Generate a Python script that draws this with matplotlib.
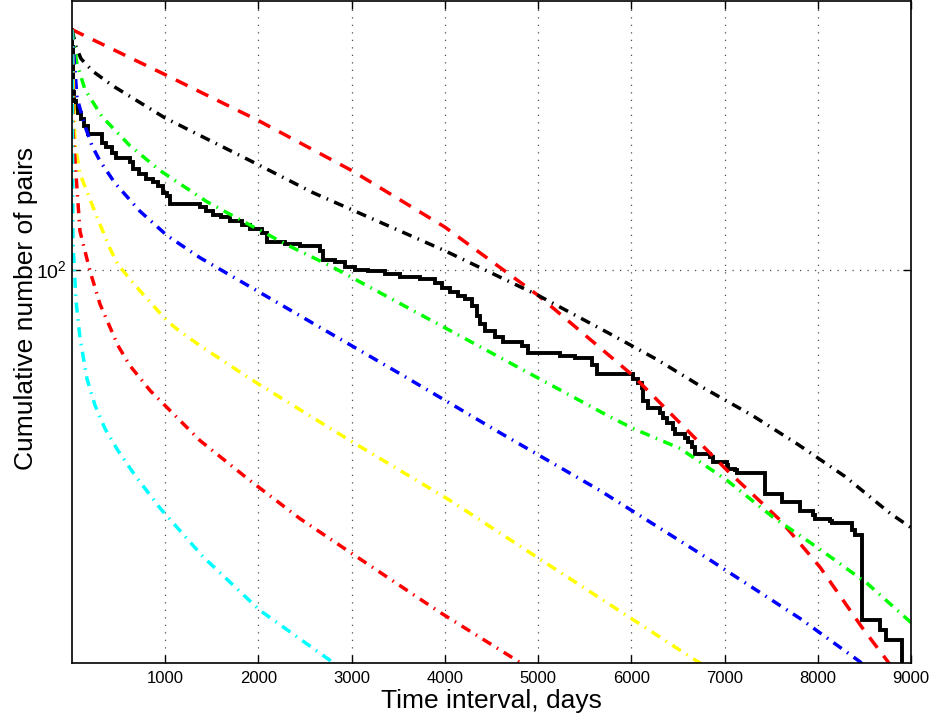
import numpy as np
import matplotlib
matplotlib.use("Agg")
import matplotlib.pyplot as plt

plt.rcParams['font.family'] = ['Liberation Sans', 'DejaVu Sans']

# observed cumulative number of pairs (step function)
obs_days = [0, 3, 6, 11, 21, 43, 64, 97, 129, 172, 322, 365, 429, 472, 622, 654,
            719, 794, 869, 923, 976, 1019, 1051, 1373, 1437, 1513, 1598, 1695,
            1824, 1909, 2038, 2092, 2285, 2446, 2660, 2693, 2821, 2928, 3036,
            3175, 3358, 3518, 3733, 3894, 3969, 4055, 4141, 4216, 4291, 4344,
            4377, 4430, 4538, 4623, 4827, 4892, 5235, 5396, 5578, 5632, 6018,
            6072, 6114, 6125, 6179, 6308, 6340, 6383, 6447, 6468, 6576, 6608,
            6651, 6683, 6844, 6876, 7026, 7036, 7112, 7133, 7434, 7616, 7809,
            7949, 7970, 8131, 8153, 8367, 8399, 8474, 8667, 8732, 8903]
obs_pairs = [267, 249, 225, 207, 199, 193, 190, 185, 180, 174, 168, 165, 161,
             158, 155, 151, 148, 145, 143, 141, 137, 135, 131, 129, 127, 125,
             124, 122, 120, 118, 116, 112, 111, 110, 108, 104, 103, 101, 100,
             99.5, 98.3, 97.1, 96.3, 94.7, 92.8, 91.3, 89.8, 88.8, 86.3, 82.8,
             80.1, 77.9, 76.0, 74.5, 73.3, 71.2, 70.3, 69.8, 67.8, 65.3, 64.0,
             63.0, 61.7, 58.5, 56.7, 55.7, 54.4, 53.5, 52.2, 51.1, 50.3, 49.5,
             48.3, 47.1, 46.4, 45.6, 44.9, 44.3, 44.0, 43.5, 40.0, 38.6, 37.3,
             36.7, 36.1, 35.7, 35.4, 34.4, 33.7, 23.8, 22.9, 22.0, 15]

# model curves
red_dash_days = [0, 1000, 2000, 3000, 4000, 5000, 6018, 7026, 7595, 8024, 8485, 8743, 9000]
red_dash_vals = [267, 222, 184, 150, 119, 90, 64.8, 44.0, 35.9, 29.6, 23.0, 20.2, 17.5]

black_days = [0, 43, 97, 225, 440, 998, 1985, 2585, 4001, 5000, 5771, 6276,
              6769, 7295, 7788, 8292, 8775, 9000]
black_vals = [267, 249, 237, 225, 212, 186, 154, 137, 108, 90, 76.9, 69.2,
              61.7, 55.1, 48.9, 42.9, 36.9, 34.8]

green_days = [0, 54, 139, 322, 622, 944, 1448, 1909, 2339, 2768, 5740, 6019,
              6524, 7028, 7521, 7994, 8530, 9000]
green_vals = [267, 232, 209, 187, 166, 150, 132, 120, 110, 101.6, 55.1, 52.2,
              48.1, 42.2, 36.3, 32.1, 27.7, 23.6]

blue_days = [0, 54, 139, 215, 300, 461, 729, 1019, 1373, 2446, 3519, 4591,
             5664, 6737, 7809, 8453, 9000]
blue_vals = [267, 202, 180, 166, 156, 142.5, 127, 115, 105, 82.8, 65.3, 51.3,
             40.5, 31.3, 24.0, 20.1, 16]

yellow_days = [0, 32, 86, 268, 408, 493, 729, 1019, 1159, 1373, 1909, 2982,
               4055, 5031, 6694, 7200]
yellow_vals = [267, 167, 148, 124, 109, 102, 91.7, 81.1, 77.6, 73.3, 64.0, 49.7,
               38.9, 30.5, 20.2, 18]

red_dd_days = [0, 11, 86, 193, 300, 493, 622, 837, 1373, 1909, 2446, 3079,
               3948, 4774, 5200]
red_dd_vals = [267, 176, 117, 99.5, 86.9, 73.3, 67.5, 61.0, 49.7, 42.2, 36.1,
               30.7, 24.6, 20.2, 18]

cyan_days = [0, 11, 43, 86, 161, 247, 354, 493, 676, 944, 1405, 2017, 2789, 3200]
cyan_vals = [267, 112, 88, 75.7, 64.0, 57.4, 52.2, 47.7, 43.1, 37.7, 30.9, 24.8,
             20.1, 18]

fig = plt.figure(figsize=(9.37, 7.25), dpi=100)
ax = fig.add_axes([0.0768, 0.0855, 0.8955, 0.913])

ax.plot(obs_days, obs_pairs, color='k', lw=2.8, drawstyle='steps-post',
        solid_joinstyle='miter')

lw = 2.5
dd = (2.9, 1.9, 0.45, 1.9)
ax.plot(red_dash_days, red_dash_vals, color=(1, 0, 0), lw=lw, dashes=(3.75, 2.9))
ax.plot(black_days, black_vals, color='k', lw=lw, dashes=dd)
ax.plot(green_days, green_vals, color=(0, 1, 0), lw=lw, dashes=dd)
ax.plot(blue_days, blue_vals, color=(0, 0, 1), lw=lw, dashes=dd)
ax.plot(yellow_days, yellow_vals, color=(1, 1, 0), lw=lw, dashes=dd)
ax.plot(red_dd_days, red_dd_vals, color=(1, 0, 0), lw=lw, dashes=dd)
ax.plot(cyan_days, cyan_vals, color=(0, 1, 1), lw=lw, dashes=dd)

ax.set_yscale('log')
ax.set_xlim(0, 9000)
ax.set_ylim(20, 300)
ax.set_xticks(range(1000, 9001, 1000))
ax.set_yticks([100])
ax.set_yticklabels([r'$\mathdefault{10^2}$'])
ax.yaxis.set_minor_locator(matplotlib.ticker.NullLocator())
ax.tick_params(direction='in', top=True, right=True, labelsize=12, length=6,
               width=1, pad=6)
ax.tick_params(axis='y', labelsize=14, pad=4)
ax.grid(True, which='major', color='k', lw=0.9, alpha=0.7,
        linestyle=(0, (1, 5)))
for s in ax.spines.values():
    s.set_linewidth(1.2)

ax.set_xlabel('Time interval, days', fontsize=19, labelpad=2)
ax.set_ylabel('Cumulative number of pairs', fontsize=19)
ax.yaxis.set_label_coords(-0.041, 0.535)

fig.savefig('out.png', dpi=100)
